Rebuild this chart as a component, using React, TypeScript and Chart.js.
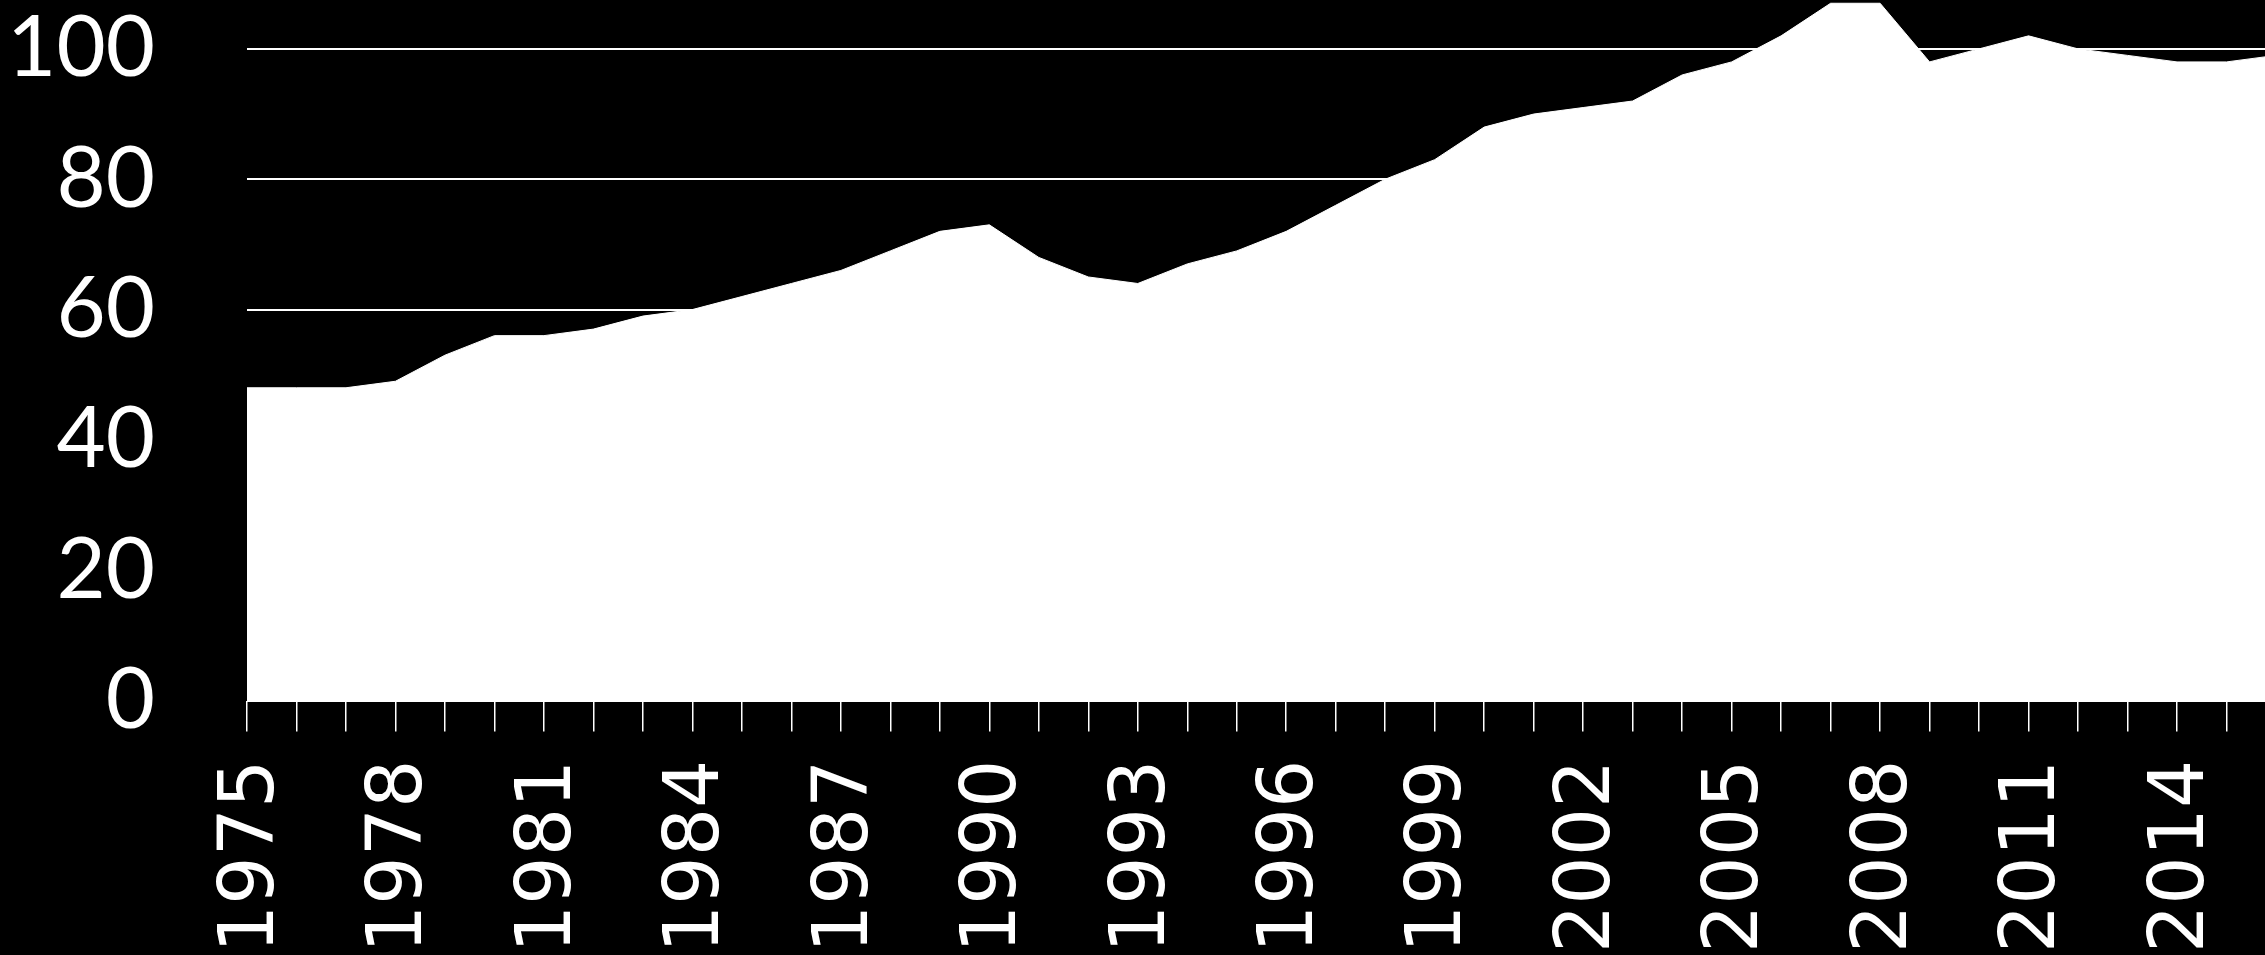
import { useEffect, useRef } from "react";
import { Chart, registerables } from "chart.js";

Chart.register(...registerables);

const years = [
  "1975", "1976", "1977", "1978", "1979", "1980", "1981", "1982", "1983", "1984",
  "1985", "1986", "1987", "1988", "1989", "1990", "1991", "1992", "1993", "1994",
  "1995", "1996", "1997", "1998", "1999", "2000", "2001", "2002", "2003", "2004",
  "2005", "2006", "2007", "2008", "2009", "2010", "2011", "2012", "2013", "2014",
  "2015", "2016",
];

const values = [
  48, 48, 48, 49, 53, 56, 56, 57, 59, 60,
  62, 64, 66, 69, 72, 73, 68, 65, 64, 67,
  69, 72, 76, 80, 83, 88, 90, 91, 92, 96,
  98, 102, 107, 107, 98, 100, 102, 100, 99, 98,
  98, 99,
];

const yTickStep = 20;
const yMin = 0;
const yMax = 107.5;

const CANVAS_W = 2276;
const CANVAS_H = 955;
const PLOT_LEFT = 247;
const PLOT_BOTTOM = 700.6;

const X_FONT = "'DejaVu Sans'";
const Y_FONT = "Lato";

export default function App() {
  const ref = useRef<HTMLCanvasElement | null>(null);

  useEffect(() => {
    document.body.style.margin = "0";
    document.body.style.background = "#000";
    let chart: Chart | null = null;
    let cancelled = false;

    const build = () => {
      const canvas = ref.current;
      if (!canvas || cancelled) return;
      chart = new Chart(canvas, {
        type: "line",
        data: {
          labels: years,
          datasets: [
            {
              data: values,
              fill: "origin",
              backgroundColor: "#ffffff",
              borderColor: "#ffffff",
              borderWidth: 1,
              pointRadius: 0,
              tension: 0,
            },
          ],
        },
        options: {
          responsive: false,
          animation: false,
          devicePixelRatio: 1,
          layout: { padding: 0 },
          plugins: {
            legend: { display: false },
            tooltip: { enabled: false },
          },
          scales: {
            x: {
              type: "category",
              offset: false,
              border: { display: false },
              grid: {
                drawOnChartArea: false,
                drawTicks: true,
                tickLength: 31,
                color: "#ffffff",
                tickColor: "#ffffff",
                lineWidth: 1.5,
              },
              ticks: {
                autoSkip: false,
                maxRotation: 90,
                minRotation: 90,
                padding: 28,
                labelOffset: 6,
                color: "#ffffff",
                font: { family: X_FONT, size: 76 },
                callback: function (this: any, v: any, i: number) {
                  return i % 3 === 0 ? this.getLabelForValue(v) : "";
                },
              },
              afterFit: (scale: any) => {
                scale.paddingLeft = 0;
                scale.paddingRight = 0;
                scale.height = CANVAS_H - PLOT_BOTTOM;
              },
            },
            y: {
              min: yMin,
              max: yMax,
              border: { display: false },
              grid: {
                color: "#ffffff",
                lineWidth: 2,
                drawTicks: false,
              },
              ticks: {
                stepSize: yTickStep,
                includeBounds: false,
                padding: 92,
                color: "#ffffff",
                font: { family: Y_FONT, size: 85 },
                callback: (v: any) => (Number(v) % yTickStep === 0 ? String(v) : null),
              },
              afterFit: (scale: any) => {
                scale.width = PLOT_LEFT;
                scale.paddingTop = 0;
                scale.paddingBottom = 0;
              },
            },
          },
        },
      });
    };

    const fonts: any = (document as any).fonts;
    if (fonts && fonts.load) {
      Promise.all([
        fonts.load(`76px ${X_FONT}`, "1975"),
        fonts.load(`85px ${Y_FONT}`, "100"),
      ])
        .catch(() => null)
        .then(() => build());
    } else {
      build();
    }

    return () => {
      cancelled = true;
      if (chart) chart.destroy();
    };
  }, []);

  return (
    <div
      style={{
        position: "fixed",
        left: 0,
        top: 0,
        width: "100vw",
        height: "100vh",
        background: "#000",
        overflow: "hidden",
      }}
    >
      <canvas
        ref={ref}
        width={CANVAS_W}
        height={CANVAS_H}
        style={{ display: "block" }}
      />
      <span
        style={{
          position: "absolute",
          left: -9999,
          top: 0,
          fontFamily: "'DejaVu Sans', Lato",
        }}
      >
        1975 <span style={{ fontFamily: "Lato" }}>100</span>
      </span>
    </div>
  );
}
